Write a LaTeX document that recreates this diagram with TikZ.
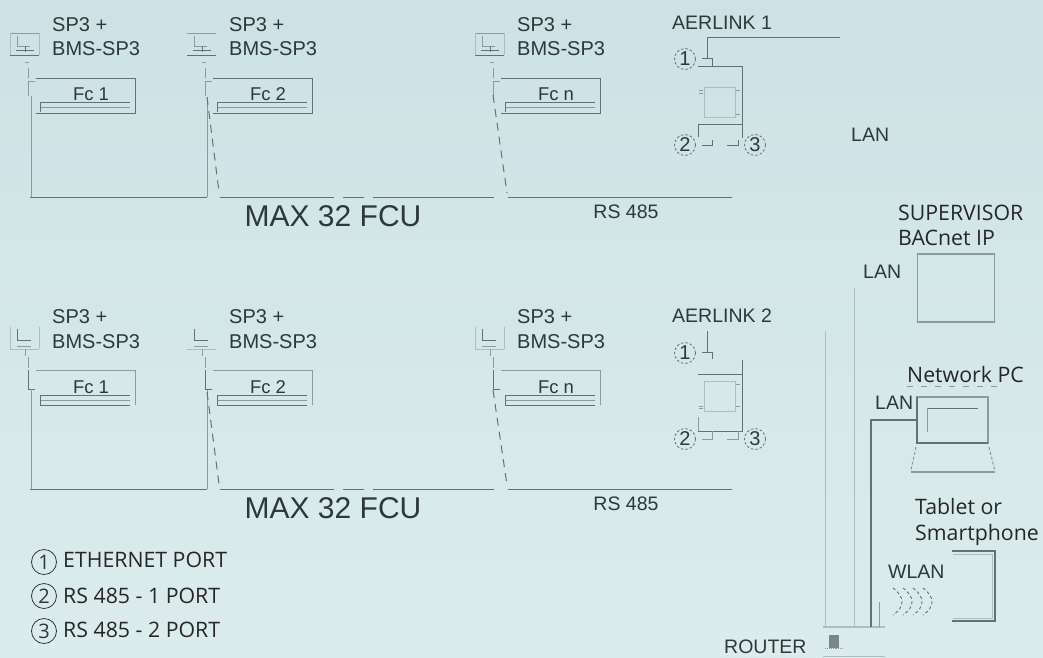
\documentclass[tikz,border=0pt]{standalone}
\usepackage{fontspec}
\setmainfont{Liberation Sans}
\newfontfamily\opensans{Open Sans}
\usetikzlibrary{arrows.meta}
\definecolor{bgtop}{HTML}{CDE2E5}
\definecolor{bgbot}{HTML}{DCECEC}
\definecolor{ink}{HTML}{2E3838}
\definecolor{dk}{HTML}{627272}
\definecolor{md}{HTML}{8A9C9C}
\definecolor{lt}{HTML}{ACBEBE}
\tikzset{
  lbl/.style={anchor=base west,inner sep=0pt,text=ink,font=\fontsize{19.5}{19.5}\selectfont},
  splbl/.style={anchor=base west,inner sep=0pt,text=ink,font=\fontsize{20}{20}\selectfont},
  fclbl/.style={anchor=base,inner sep=0pt,text=ink,font=\fontsize{18.5}{18.5}\selectfont},
  maxlbl/.style={anchor=base,inner sep=0pt,text=ink,font=\fontsize{30}{30}\selectfont},
  oslbl/.style={anchor=base west,inner sep=0pt,text=black!85,font=\opensans\fontsize{21.3}{21.3}\selectfont},
  num/.style={circle,draw=dk,dash pattern=on 2.5pt off 2pt,line width=.8pt,minimum size=21pt,inner sep=0pt,text=ink,font=\fontsize{20}{20}\selectfont},
  lnum/.style={circle,draw=ink,line width=.8pt,minimum size=25pt,inner sep=0pt,text=ink,font=\opensans\fontsize{20}{20}\selectfont},
  dline/.style={draw=dk,line width=1pt},
  mline/.style={draw=md,line width=1pt},
  lline/.style={draw=lt,line width=1pt},
  dashl/.style={draw=dk,line width=1pt,dash pattern=on 8pt off 6pt},
}
\newcommand{\unitA}[3]{%
  \begin{scope}[shift={(#2,0)}]
    \node[splbl] (#1s) at (52,31) {SP3 +};
    \node[splbl] (#1b) at (52,55) {BMS-SP3};
    \node[fclbl] (#1f) at (91,100) {#3};
    \draw[mline] (10,33) -- (39,33);
    \draw[dline] (10,55) -- (39,55);
    \draw[mline] (17,36) -- (17,46) -- (30,46);
    \draw[dline] (16,50) -- (34,50) (25,46) -- (25,52);
    \draw[dline] (36,78) -- (135,78) -- (135,113) -- (36,113);
    \draw[dline] (40,112) -- (40,102) -- (130,102);
    \draw[mline] (41,107) -- (130,107);
    \draw[mline] (25,62) -- (29,62) (28,68) -- (28,78) (35,81) -- (28,81) -- (28,96);
  \end{scope}}
\newcommand{\unitB}[3]{%
  \begin{scope}[shift={(#2,0)}]
    \node[splbl] (#1s) at (52,323) {SP3 +};
    \node[splbl] (#1b) at (52,348) {BMS-SP3};
    \node[fclbl] (#1f) at (91,393) {#3};
    \draw[lline] (10,349) -- (39,349);
    \draw[dline] (17,329) -- (17,340) -- (31,340);
    \draw[mline] (17,346) -- (31,346);
    \draw[mline] (25,349) -- (25,356) (28,357) -- (28,368);
    \draw[mline] (36,370) -- (135,370) -- (135,405);
    \draw[dline] (28,370) -- (28,389) -- (35,389);
    \draw[dline] (130,395) -- (40,395) -- (40,405) -- (130,405);
    \draw[mline] (41,400) -- (130,400);
  \end{scope}}
\begin{document}
\begin{tikzpicture}[x=1pt,y=-1pt]
\useasboundingbox (0,0) rectangle (1043,657);
\shade[top color=bgtop,bottom color=bgbot,draw=none] (0,0) rectangle (1043,657);

% ---------- row 1
\unitA{a}{0}{Fc 1}
\unitA{b}{177}{Fc 2}
\unitA{c}{465}{Fc n}
\draw[lline] (10,33) -- (10,55) (39,33) -- (39,55);
\draw[lline] (475,33) -- (475,55) (504,33) -- (504,55);
\coordinate (r1a) at (31,197); \coordinate (r1b) at (207,197);
\draw[mline] (31,96) -- (r1a);
\draw[dline] (30,197) -- (r1b);
\draw[mline] (r1b) -- (207,97);
\draw[dashl] (207,97) -- (219,192);
\draw[dline] (220,197) -- (334,197) (343,197) -- (364,197) (373,197) -- (494,197) (508,197) -- (732,197);
\draw[dashl] (493,95) -- (507,193);
\node[maxlbl] (max1) at (333,226) {MAX 32 FCU};
\node[lbl,anchor=base] (rs1) at (626,218) {RS 485};

% ---------- row 2
\unitB{d}{0}{Fc 1}
\unitB{e}{177}{Fc 2}
\unitB{f}{465}{Fc n}
\draw[lline] (10,327) -- (10,349) (39,327) -- (39,349);
\draw[lline] (475,327) -- (475,349) (504,327) -- (504,349);
\coordinate (r2a) at (31,489); \coordinate (r2b) at (207,489);
\draw[mline] (31,389) -- (r2a);
\draw[dline] (30,489) -- (r2b);
\draw[mline] (r2b) -- (207,390);
\draw[dashl] (207,392) -- (219,484);
\draw[dline] (220,489) -- (334,489) (343,489) -- (364,489) (373,489) -- (494,489) (508,489) -- (732,489);
\draw[dashl] (493,390) -- (507,485);
\node[maxlbl] (max2) at (333,518) {MAX 32 FCU};
\node[lbl,anchor=base] (rs2) at (626,510) {RS 485};

% ---------- Aerlink 1
\node[lbl] (al1) at (672,29) {AERLINK 1};
\node[num] (n1a) at (685,59) {1};
\node[num] (n2a) at (685,145) {2};
\node[num] (n3a) at (755,145) {3};
\draw[dline] (707,58) -- (707,37) -- (840,37);
\draw[dline] (702,58) -- (712,58) -- (712,66);
\draw[dline] (698,66) -- (742,66) -- (742,138);
\draw[lline] (704,87) rectangle (735,117);
\draw[mline] (699,90) -- (703,90) (699,93) -- (703,93) (736,90) -- (740,90) (736,114) -- (740,114);
\draw[dline] (698,137) -- (698,124) -- (742,124);
\draw[dline] (702,145) -- (712,145) -- (712,140) (727,145) -- (738,145) -- (738,140);

% ---------- Aerlink 2
\node[lbl] (al2) at (672,322) {AERLINK 2};
\node[num] (n1b) at (685,353) {1};
\node[num] (n2b) at (685,439) {2};
\node[num] (n3b) at (755,439) {3};
\draw[dline] (707,331) -- (707,352) (702,352) -- (712,352) -- (712,359);
\draw[dline] (698,374) -- (742,374);
\draw[dline] (742,360) -- (742,431) -- (698,431);
\draw[mline] (698,417) -- (698,431);
\draw[lline] (704,381) rectangle (735,411);
\draw[mline] (699,406) -- (703,406) (699,408) -- (703,408) (736,384) -- (740,384) (736,406) -- (740,406);
\draw[mline] (712,431) -- (712,439) -- (702,439) (738,431) -- (738,439) -- (727,439);

\node[lbl] (lan0) at (851,141) {LAN};

% ---------- right side
\node[oslbl] (sup1) at (898,220) {SUPERVISOR};
\node[oslbl] (sup2) at (898,245) {BACnet IP};
\node[draw=md,line width=1.3pt,minimum width=77pt,minimum height=68pt,inner sep=0pt] (supbox) at (956,288) {};
\node[lbl] (lan1) at (863,278) {LAN};
\node[oslbl] (npc) at (907,382) {Network PC};
\draw[md,line width=.8pt,dash pattern=on 6pt off 8pt] (907,386) -- (1002,386);
\node[lbl] (lan2) at (875,409) {LAN};
\node[draw=md,line width=1.3pt,minimum width=71pt,minimum height=46pt,inner sep=0pt] (pc) at (952.5,420) {};
\draw[dk,line width=1.2pt] (917,397) -- (917,443) -- (988,443);
\draw[dline] (978,408) -- (927,408);
\draw[mline] (927,408) -- (927,432);
\draw[md,line width=1pt,densely dashed] (916,447) -- (911,470) (989,447) -- (995,471);
\draw[md,line width=1.2pt] (911,472) -- (995,472);
\node[oslbl] (tab1) at (915,514) {Tablet or};
\node[oslbl] (tab2) at (915,540) {Smartphone};
\draw[dk,line width=1.4pt] (952,551) -- (995,551) -- (995,621) -- (952,621);
\draw[lt,line width=1pt] (953,554) -- (992,554) -- (992,618) -- (953,618);
\node[lbl] (wlan) at (888,578) {WLAN};
\foreach \x in {893,903,913,923}
  \draw[dk,line width=.9pt,dash pattern=on 3pt off 2.5pt] (\x,588) .. controls (\x+12,597) and (\x+12,607) .. (\x,615);

% router
\node[lbl] (rt) at (724,653) {ROUTER};
\node[fill=dk!85,inner sep=0pt,minimum width=10pt,minimum height=13pt] (rbox) at (834,641) {};
\draw[lline,line width=1.3pt] (823,627) -- (885,627);
\draw[lline] (825,627) -- (825,331);
\draw[lline] (854,627) -- (854,288);
\draw[dk,line width=1.3pt] (871,627) -- (871,420) -- (pc.west);
\draw[mline] (879,627) -- (879,602);
\draw[md,densely dotted,line width=.9pt] (825,648) -- (844,648);
\draw[lline,line width=1.3pt] (823,656.5) -- (885,656.5);

% ---------- legend
\node[lnum] (l1) at (44,562) {1};
\node[lnum] (l2) at (44,596) {2};
\node[lnum] (l3) at (44,631) {3};
\node[oslbl] at (63,567) {ETHERNET PORT};
\node[oslbl] at (63,603) {RS 485 - 1 PORT};
\node[oslbl] at (63,637) {RS 485 - 2 PORT};
\end{tikzpicture}
\end{document}
